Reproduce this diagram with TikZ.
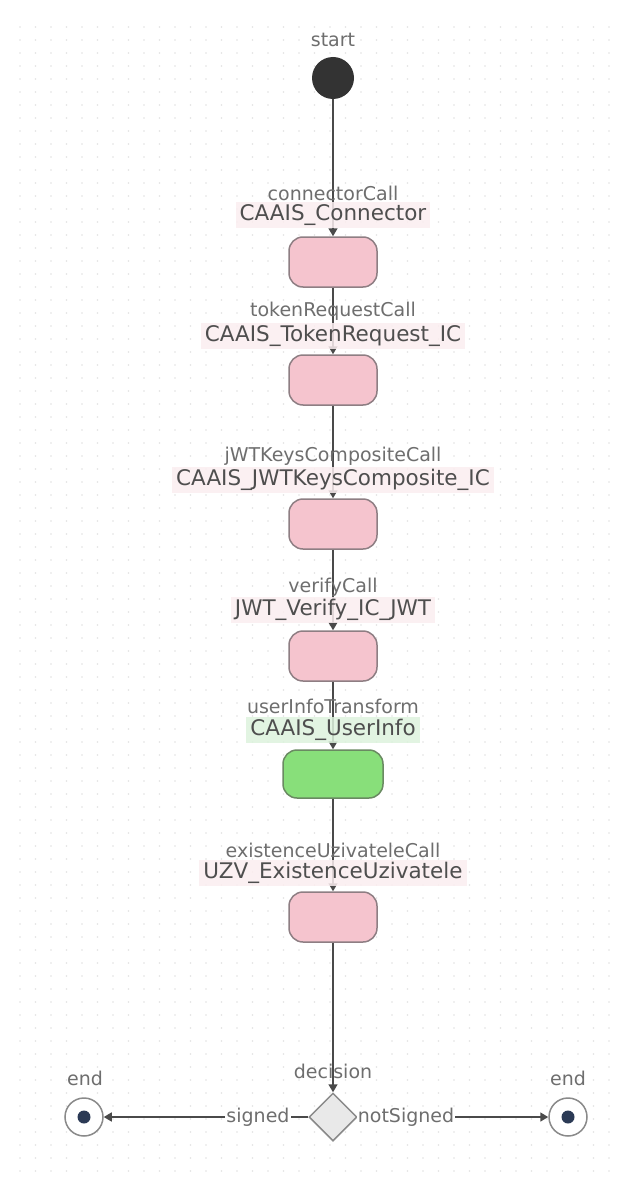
\documentclass[tikz,border=0pt]{standalone}
\usepackage{fontspec}
\setmainfont{DejaVu Sans}
\usetikzlibrary{arrows.meta,shapes.geometric}
\definecolor{pinkfill}{HTML}{F5C4CE}
\definecolor{pinkdraw}{HTML}{8E7E83}
\definecolor{greenfill}{HTML}{88DF7A}
\definecolor{greendraw}{HTML}{6A8A62}
\definecolor{pinkbg}{HTML}{FBEEF0}
\definecolor{greenbg}{HTML}{DDF3DD}
\definecolor{linec}{HTML}{4A4A4A}
\definecolor{uplbl}{HTML}{6E6E6E}
\definecolor{lowlbl}{HTML}{4E4E4E}
\definecolor{dotc}{HTML}{E2E2E2}
\definecolor{navy}{HTML}{2B3A55}
\definecolor{diamfill}{HTML}{E9E9E9}
\definecolor{diamdraw}{HTML}{8A8A8A}
\begin{document}
\begin{tikzpicture}[x=1pt,y=-1pt,
  act/.style={draw=pinkdraw, fill=pinkfill, line width=1.5pt, rounded corners=14pt,
    minimum width=88pt, minimum height=50pt, inner sep=0pt},
  actgreen/.style={act, draw=greendraw, fill=greenfill, minimum width=100pt, minimum height=48pt},
  startnode/.style={circle, fill=black!80, minimum size=42pt, inner sep=0pt},
  endnode/.style={circle, draw=diamdraw, fill=white, line width=1.5pt, minimum size=38pt, inner sep=0pt},
  decnode/.style={diamond, draw=diamdraw, fill=diamfill, line width=1.5pt, minimum width=48pt, minimum height=48pt, inner sep=0pt},
  flow/.style={draw=linec, line width=1.6pt, -{Triangle[length=8pt,width=9pt]}},
  uptxt/.style={text=uplbl, font=\fontsize{19}{22}\selectfont, inner sep=1pt},
  lowtxt/.style={text=lowlbl, font=\fontsize{21.5}{24}\selectfont, fill=pinkbg, fill opacity=0.85, text opacity=1, inner xsep=4pt, inner ysep=2pt},
  lowgreen/.style={lowtxt, fill=greenbg},
  edgelbl/.style={text=uplbl, font=\fontsize{19}{22}\selectfont, fill=white, inner sep=1pt}
]
\useasboundingbox (0,0) rectangle (628,1185);
\fill[white] (0,0) rectangle (628,1185);
\foreach \i in {0,...,38} {
  \foreach \j in {0,...,88} {
    \fill[dotc] (20+\i*15.5, 27+\j*13) circle[radius=0.9pt];
  }
}
% nodes
\node[startnode] (start) at (333,78) {};
\node[act] (a1) at (333,262) {};
\node[act] (a2) at (333,380) {};
\node[act] (a3) at (333,524) {};
\node[act] (a4) at (333,656) {};
\node[actgreen] (a5) at (333,774) {};
\node[act] (a6) at (333,917) {};
\node[decnode] (dec) at (333,1117) {};
\node[endnode] (e1) at (84,1117) {};
\node[endnode] (e2) at (568,1117) {};
\fill[navy] (e1.center) circle[radius=6.5pt];
\fill[navy] (e2.center) circle[radius=6.5pt];
% edges
\draw[flow] (start) -- (a1);
\draw[flow] (a1) -- (a2);
\draw[flow] (a2) -- (a3);
\draw[flow] (a3) -- (a4);
\draw[flow] (a4) -- (a5);
\draw[flow] (a5) -- (a6);
\draw[flow] (a6) -- (dec);
\draw[flow] (dec) -- (e1);
\draw[flow] (dec) -- (e2);
% labels
\node[uptxt] (tstart) at (333,40) {start};
\node[uptxt] (l1a) at (333,193) {connectorCall};
\node[lowtxt] (l1b) at (333,215) {CAAIS\_Connector};
\node[uptxt] (l2a) at (333,311) {tokenRequestCall};
\node[lowtxt] (l2b) at (333,336) {CAAIS\_TokenRequest\_IC};
\node[uptxt] (l3a) at (333,456) {jWTKeysCompositeCall};
\node[lowtxt] (l3b) at (333,480) {CAAIS\_JWTKeysComposite\_IC};
\node[uptxt] (l4a) at (333,587) {verifyCall};
\node[lowtxt] (l4b) at (333,610) {JWT\_Verify\_IC\_JWT};
\node[uptxt] (l5a) at (333,706) {userInfoTransform};
\node[lowgreen] (l5b) at (333,730) {CAAIS\_UserInfo};
\node[uptxt] (l6a) at (333,850) {existenceUzivateleCall};
\node[lowtxt] (l6b) at (333,873) {UZV\_ExistenceUzivatele};
\node[uptxt] (ldec) at (333,1071) {decision};
\node[uptxt] (lend1) at (85,1078) {end};
\node[uptxt] (lend2) at (568,1078) {end};
\node[edgelbl] (lsig) at (258,1117) {signed};
\node[edgelbl] (lnot) at (406,1117) {notSigned};
\end{tikzpicture}
\end{document}
